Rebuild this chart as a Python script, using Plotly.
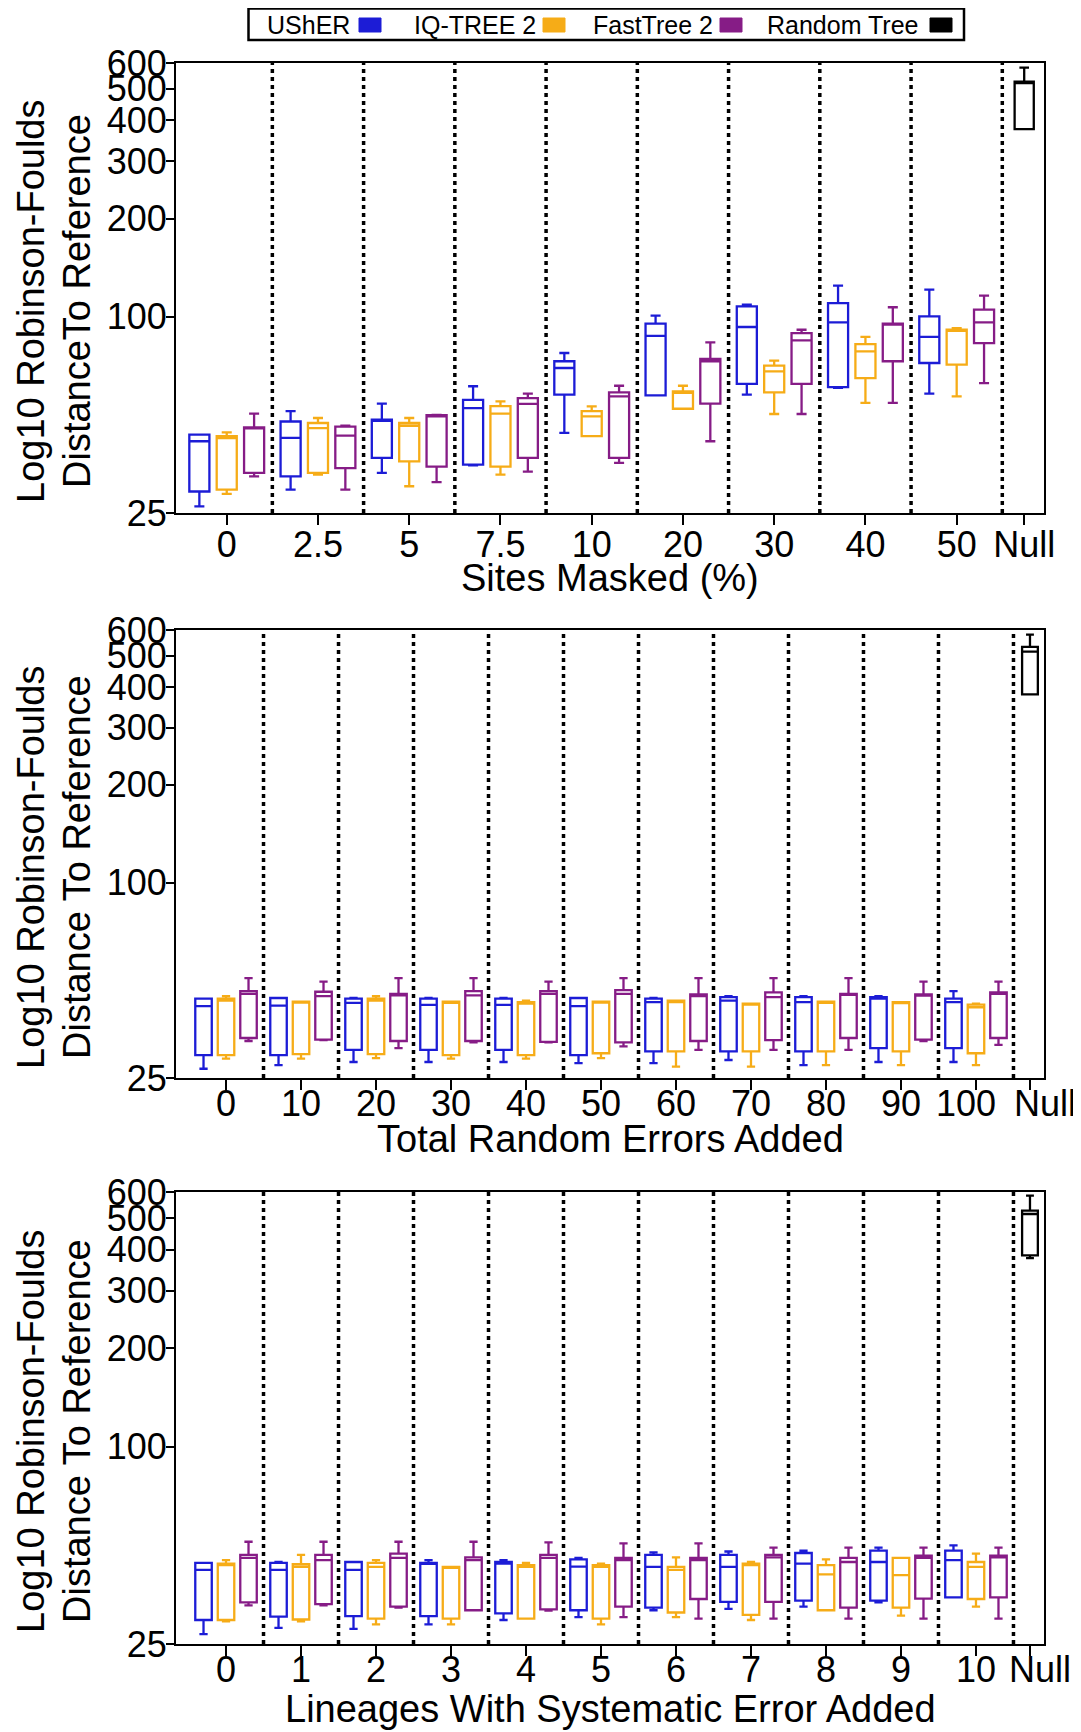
import math
import plotly.graph_objects as go

# ---------------- data (lower whisker, Q1, median, Q3, upper whisker) ----------------
METHODS = ["UShER", "IQ-TREE 2", "FastTree 2"]
NULL_NAME = "Random Tree"
COLORS = ["#1c1cd6", "#F6AC17", "#861c86"]
NULL_COLOR = "#000000"

P1_CATS = ["0", "2.5", "5", "7.5", "10", "20", "30", "40", "50"]
P1_USHER = [(26.2, 29.1, 41.5, 43.5, 43.5), (29.5, 32.4, 42.5, 47.7, 51.3), (33.2, 36.9, 48.0, 48.3, 54.1),
            (35.0, 35.2, 52.4, 55.6, 61.2), (44.0, 57.7, 69.6, 73.0, 77.4), (57.4, 57.4, 87.4, 95.2, 100.8),
            (57.7, 62.2, 93.0, 107.5, 108.9), (60.5, 60.8, 96.1, 110.1, 124.5), (58.1, 72.1, 86.7, 100.3, 121.0)]
P1_IQTREE = [(28.6, 29.5, 42.4, 43.0, 44.2), (32.8, 33.2, 45.5, 47.2, 48.9), (30.2, 36.0, 46.3, 47.2, 48.9),
             (32.8, 34.7, 50.4, 53.2, 55.0), (43.0, 43.0, 49.5, 51.3, 53.1), (52.2, 52.2, 58.4, 59.0, 61.4),
             (50.3, 58.6, 68.0, 70.8, 73.3), (54.4, 64.8, 78.3, 82.4, 86.7), (57.0, 71.3, 90.7, 91.2, 92.3)]
P1_FASTTREE = [(32.4, 33.2, 45.5, 45.8, 50.4), (29.5, 34.3, 43.2, 46.0, 46.3), (31.1, 34.7, 49.5, 49.9, 50.0),
               (33.5, 36.9, 54.0, 56.3, 58.1), (35.6, 36.9, 57.0, 58.6, 61.4), (41.5, 54.1, 73.0, 74.2, 83.4),
               (50.3, 62.2, 84.6, 89.1, 91.2), (54.4, 73.0, 94.5, 95.2, 106.9), (62.6, 83.0, 96.1, 105.1, 116.0)]
P1_NULL = (376, 376, 521, 526, 581)

P2_CATS = ["0", "10", "20", "30", "40", "50", "60", "70", "80", "90", "100"]
P2_USHER = [(26.7, 29.4, 41.6, 43.9, 43.9), (27.4, 29.4, 41.8, 44.1, 44.1), (28.0, 30.5, 42.6, 43.9, 44.1),
            (28.0, 30.5, 42.0, 43.9, 44.1), (28.0, 30.5, 42.0, 43.9, 44.1), (27.8, 29.4, 41.6, 44.1, 44.1),
            (27.8, 30.2, 42.8, 43.9, 44.1), (28.4, 30.2, 43.3, 44.4, 44.7), (27.4, 30.2, 42.8, 44.4, 44.7),
            (28.0, 30.9, 43.9, 44.4, 44.7), (28.0, 30.9, 42.8, 43.9, 46.3)]
P2_IQTREE = [(28.7, 29.4, 43.3, 43.9, 44.7), (28.7, 29.6, 42.8, 43.0, 43.0), (28.8, 29.6, 43.3, 43.9, 44.7),
             (28.7, 29.4, 42.6, 43.0, 43.0), (28.7, 29.4, 42.4, 42.8, 43.3), (28.8, 29.8, 42.8, 43.0, 43.0),
             (27.1, 30.2, 42.8, 43.3, 43.3), (27.1, 30.2, 42.1, 42.4, 42.4), (27.4, 30.2, 42.6, 43.0, 43.0),
             (27.4, 30.2, 42.6, 42.8, 42.8), (27.4, 29.8, 41.3, 42.1, 42.4)]
P2_FASTTREE = [(32.5, 33.2, 45.4, 46.3, 50.8), (32.7, 32.8, 44.7, 46.1, 49.5), (30.9, 32.5, 44.9, 45.4, 50.8),
               (32.2, 32.5, 44.9, 46.3, 50.8), (32.2, 32.3, 45.4, 46.3, 49.5), (31.3, 32.2, 45.4, 46.6, 50.8),
               (30.5, 32.5, 44.7, 45.2, 50.8), (30.5, 32.7, 44.4, 45.9, 50.8), (30.5, 33.2, 45.2, 45.4, 50.8),
               (32.5, 32.8, 44.9, 45.2, 49.5), (31.6, 33.2, 45.4, 45.9, 49.5)]
P2_NULL = (380, 380, 515, 532, 581)

P3_CATS = ["0", "1", "2", "3", "4", "5", "6", "7", "8", "9", "10"]
P3_USHER = [(26.8, 29.6, 42.1, 44.2, 44.2), (28.0, 30.3, 42.1, 44.2, 44.5), (27.8, 30.4, 42.1, 44.5, 44.5),
            (28.7, 30.4, 44.0, 44.2, 45.1), (29.6, 31.0, 44.0, 44.5, 45.1), (30.2, 31.7, 43.1, 45.3, 45.8),
            (31.7, 32.3, 43.0, 46.8, 47.6), (32.0, 33.6, 43.0, 46.8, 47.9), (32.5, 33.9, 44.0, 47.4, 48.2),
            (33.5, 33.9, 44.5, 48.2, 49.2), (34.7, 34.7, 45.1, 48.2, 50.0)]
P3_IQTREE = [(29.3, 29.6, 43.5, 44.0, 45.1), (29.3, 29.7, 43.0, 43.8, 46.8), (28.7, 29.9, 43.0, 44.2, 45.1),
             (28.7, 29.9, 42.8, 43.0, 43.0), (29.9, 29.9, 43.0, 43.5, 44.2), (28.7, 29.9, 43.0, 43.5, 44.0),
             (30.2, 31.2, 42.1, 43.0, 46.0), (29.6, 30.7, 43.5, 44.0, 44.5), (31.7, 31.7, 40.8, 43.5, 45.3),
             (30.5, 32.3, 40.6, 45.8, 45.8), (32.5, 34.3, 43.0, 44.5, 47.2)]
P3_FASTTREE = [(32.8, 33.5, 45.8, 46.8, 51.3), (32.8, 33.1, 45.1, 46.8, 51.3), (32.3, 32.5, 45.8, 47.2, 51.3),
               (31.7, 31.7, 45.1, 46.0, 51.3), (31.6, 31.9, 45.8, 46.8, 51.1), (30.2, 32.5, 45.1, 45.8, 50.7),
               (29.9, 34.3, 45.1, 45.8, 50.7), (29.9, 33.6, 46.0, 46.8, 49.2), (29.9, 32.3, 44.5, 45.8, 49.2),
               (29.9, 34.4, 45.8, 46.5, 49.2), (29.9, 34.7, 46.0, 46.5, 49.2)]
P3_NULL = (377, 384, 514, 526, 585)

Y_TICKS = [25, 100, 200, 300, 400, 500, 600]
Y_TITLE_1 = "Log10 Robinson-Foulds"
P1_YTITLE_2 = "DistanceTo Reference"
P23_YTITLE_2 = "Distance To Reference"
P1_XTITLE = "Sites Masked (%)"
P2_XTITLE = "Total Random Errors Added"
P3_XTITLE = "Lineages With Systematic Error Added"

# ---------------- layout helpers ----------------
# the page body has an 8px margin, so the figure is drawn 8px in from the window corner
OFF = 8
FW, FH = 1081 - OFF, 1732 - OFF
FONT = "Liberation Sans, Arial, Helvetica, sans-serif"
NB = "\u00a0"
def fx(p):  # window pixel -> paper fraction
    return (p - OFF) / FW
def fy(p):
    return 1 - (p - OFF) / FH

X_LEFT, X_RIGHT = 176, 1044
panels = [
    dict(cats=P1_CATS, data=[P1_USHER, P1_IQTREE, P1_FASTTREE], null=P1_NULL, top=63, bottom=513,
         null_gap=0.74, lpad=0.556, rpad=0.217, yt2=P1_YTITLE_2, xt=P1_XTITLE, xt_y=578,
         standoff=-11, last_pad="", null_pad=""),
    dict(cats=P2_CATS, data=[P2_USHER, P2_IQTREE, P2_FASTTREE], null=P2_NULL, top=630, bottom=1078,
         null_gap=0.72, lpad=0.667, rpad=0.187, yt2=P23_YTITLE_2, xt=P2_XTITLE, xt_y=1139,
         standoff=-17, last_pad=NB * 2, null_pad=NB * 3),
    dict(cats=P3_CATS, data=[P3_USHER, P3_IQTREE, P3_FASTTREE], null=P3_NULL, top=1192, bottom=1644,
         null_gap=0.72, lpad=0.667, rpad=0.187, yt2=P23_YTITLE_2, xt=P3_XTITLE, xt_y=1709,
         standoff=-17, last_pad="", null_pad=NB * 2),
]
OFFSETS = [-0.3, 0.0, 0.3]
BOX_W = 0.22

fig = go.Figure()
shapes = []
annotations = []

for pi, p in enumerate(panels):
    sfx = "" if pi == 0 else str(pi + 1)
    xref, yref = "x" + sfx, "y" + sfx
    n = len(p["cats"])
    null_x = (n - 1) + p["null_gap"]
    for k, (name, series) in enumerate(zip(METHODS, p["data"])):
        xs = [i + OFFSETS[k] for i in range(n)]
        fig.add_trace(go.Box(
            x=xs,
            lowerfence=[s[0] for s in series], q1=[s[1] for s in series], median=[s[2] for s in series],
            q3=[s[3] for s in series], upperfence=[s[4] for s in series],
            width=BOX_W, whiskerwidth=0.5, boxpoints=False,
            line=dict(color=COLORS[k], width=2.3), fillcolor="rgba(255,255,255,0)",
            name=name, showlegend=False, xaxis=xref, yaxis=yref))
    nl = p["null"]
    fig.add_trace(go.Box(
        x=[null_x], lowerfence=[nl[0]], q1=[nl[1]], median=[nl[2]], q3=[nl[3]], upperfence=[nl[4]],
        width=0.21, whiskerwidth=0.5, boxpoints=False,
        line=dict(color=NULL_COLOR, width=2.3), fillcolor="rgba(255,255,255,0)",
        name=NULL_NAME, showlegend=False, xaxis=xref, yaxis=yref))

    # dotted separators
    for i in range(n):
        shapes.append(dict(type="line", xref=xref, yref=yref + " domain", x0=i + 0.5, x1=i + 0.5, y0=0, y1=1,
                           line=dict(color="black", width=3.5, dash="4px,4px")))

    axis_common = dict(showline=True, linewidth=2, linecolor="black", mirror=True, showgrid=False,
                       zeroline=False, ticks="outside", tickwidth=2, tickcolor="black",
                       automargin=False, tickfont=dict(family=FONT, size=36, color="black"))
    ticktext = list(p["cats"])
    ticktext[-1] = ticktext[-1] + p["last_pad"]
    ticktext.append(p["null_pad"] + "Null")
    fig.layout["xaxis" + sfx] = dict(
        domain=[fx(X_LEFT), fx(X_RIGHT)], anchor=yref, range=[-p["lpad"], null_x + p["rpad"]],
        tickmode="array", tickvals=list(range(n)) + [null_x], ticktext=ticktext, tickangle=0,
        ticklen=10, ticklabelstandoff=p["standoff"], **axis_common)
    fig.layout["yaxis" + sfx] = dict(
        domain=[fy(p["bottom"]), fy(p["top"])], anchor=xref, type="log",
        range=[math.log10(25), math.log10(600)], tickmode="array", tickvals=Y_TICKS,
        ticktext=[str(v) for v in Y_TICKS], ticklen=8, ticklabelstandoff=-8, **axis_common)

    ymid = (p["top"] + p["bottom"]) / 2 + 13
    annotations.append(dict(text=Y_TITLE_1, x=fx(31), y=fy(ymid), xref="paper", yref="paper",
                            textangle=-90, showarrow=False, xanchor="center", yanchor="middle",
                            font=dict(family=FONT, size=38, color="black")))
    annotations.append(dict(text=p["yt2"], x=fx(77), y=fy(ymid), xref="paper", yref="paper",
                            textangle=-90, showarrow=False, xanchor="center", yanchor="middle",
                            font=dict(family=FONT, size=38, color="black")))
    annotations.append(dict(text=p["xt"], x=fx((X_LEFT + X_RIGHT) / 2), y=fy(p["xt_y"]), xref="paper",
                            yref="paper", showarrow=False, xanchor="center", yanchor="middle",
                            font=dict(family=FONT, size=38, color="black")))

# ---------------- custom legend (text followed by colour square) ----------------
shapes.append(dict(type="rect", xref="paper", yref="paper", x0=fx(248.5), x1=fx(964), y0=fy(40), y1=fy(8.5),
                   line=dict(color="black", width=2.5), fillcolor="white"))
legend_names = METHODS + [NULL_NAME]
legend_colors = COLORS + [NULL_COLOR]
text_right = [352, 538, 715, 920]
sq_left = [359, 543, 720, 930]
for name, col, tr, sl in zip(legend_names, legend_colors, text_right, sq_left):
    annotations.append(dict(text=name, x=fx(tr), y=fy(24.5), xref="paper", yref="paper", showarrow=False,
                            xanchor="right", yanchor="middle", font=dict(family=FONT, size=25, color="black")))
    shapes.append(dict(type="rect", xref="paper", yref="paper", x0=fx(sl), x1=fx(sl + 22), y0=fy(32),
                       y1=fy(18), line=dict(color=col, width=1), fillcolor=col))

fig.update_layout(width=FW, height=FH, margin=dict(l=0, r=0, t=0, b=0, autoexpand=False),
                  paper_bgcolor="white", plot_bgcolor="white", showlegend=False, shapes=shapes,
                  annotations=annotations, font=dict(family=FONT, color="black"))

fig.write_html("out.html")
